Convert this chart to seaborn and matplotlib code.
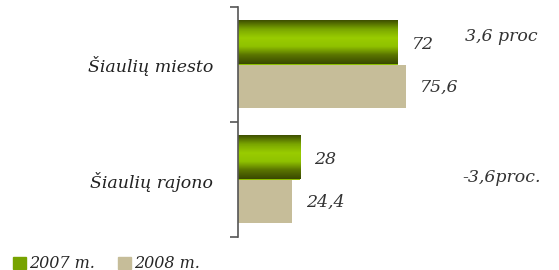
import numpy as np
import pandas as pd
import seaborn as sns
import matplotlib.pyplot as plt
from matplotlib.patches import Patch
from matplotlib.colors import LinearSegmentedColormap

# data
places = ["Šiaulių miesto", "Šiaulių rajono"]
years = ["2007 m.", "2008 m."]
val_2007 = [72, 28]
val_2008 = [75.6, 24.4]
val_labels_2007 = ["72", "28"]
val_labels_2008 = ["75,6", "24,4"]
changes = ["3,6 proc", "-3,6proc."]

df = pd.DataFrame({
    "Vieta": places * 2,
    "Metai": [years[0]] * 2 + [years[1]] * 2,
    "Reiksme": val_2007 + val_2008,
})

green = "#8cbf00"
tan = "#c6bd99"
fam = ["DejaVu Serif"]

sns.set_style("white")
plt.rcParams["font.family"] = fam

fig = plt.figure(figsize=(5.59, 2.70), dpi=100)
ax = fig.add_axes([238 / 559, 1 - 237 / 270, 221.8 / 559, 230 / 270])

sns.barplot(data=df, y="Vieta", x="Reiksme", hue="Metai", orient="h",
            palette=[green, tan], width=0.76, ax=ax, legend=False,
            saturation=1, edgecolor="none")

# gradient on the 2007 bars
cmap = LinearSegmentedColormap.from_list(
    "g", ["#3f5000", "#7aa600", "#99cc00", "#90c200", "#5a7400", "#3a4a00"])
grad = np.linspace(0, 1, 64).reshape(-1, 1)
for p in ax.patches[:2]:
    x0, y0 = p.get_x(), p.get_y()
    w, h = p.get_width(), p.get_height()
    ax.imshow(grad, cmap=cmap, aspect="auto", extent=(x0, x0 + w, y0 + h, y0),
              zorder=p.get_zorder() + 0.1)
ax.set_xlim(0, 100)
ax.set_ylim(1.5, -0.5)

txt = dict(fontsize=12.5, style="italic", color="#333333")

# value labels
for i in range(2):
    b1 = ax.patches[i]
    b2 = ax.patches[i + 2]
    ax.text(val_2007[i] + 6.5, b1.get_y() + b1.get_height() / 2 + 0.02,
            val_labels_2007[i], ha="left", va="center", **txt)
    ax.text(val_2008[i] + 6.5, b2.get_y() + b2.get_height() / 2 + 0.01,
            val_labels_2008[i], ha="left", va="center", **txt)

ax.text(102.5, -0.24, changes[0], ha="left", va="center", clip_on=False, **txt)
ax.text(101, 0.98, changes[1], ha="left", va="center", clip_on=False, **txt)

# axes styling
for s in ["top", "right", "bottom"]:
    ax.spines[s].set_visible(False)
ax.spines["left"].set_color("#555555")
ax.spines["left"].set_linewidth(1.2)
ax.set_xticks([])
ax.set_xlabel("")
ax.set_ylabel("")
ax.set_yticks([0, 1])
ax.set_yticklabels(places, fontsize=12.5, style="italic", color="#222222")
ax.tick_params(axis="y", which="major", length=0, pad=18)
ax.set_yticks([-0.5, 0.5, 1.5], minor=True)
ax.tick_params(axis="y", which="minor", left=True, length=6, width=1.2, color="#555555")

handles = [Patch(color="#77a300"), Patch(color=tan)]
fig.legend(handles, years, loc="center left", bbox_to_anchor=(0.0, 1 - 264 / 270),
           ncol=2, frameon=False, borderpad=0.3,
           prop={"family": fam, "style": "italic", "size": 11.5},
           handlelength=0.8, handleheight=0.8, handletextpad=0.25, columnspacing=1.4)

fig.savefig("out.png", dpi=100)
